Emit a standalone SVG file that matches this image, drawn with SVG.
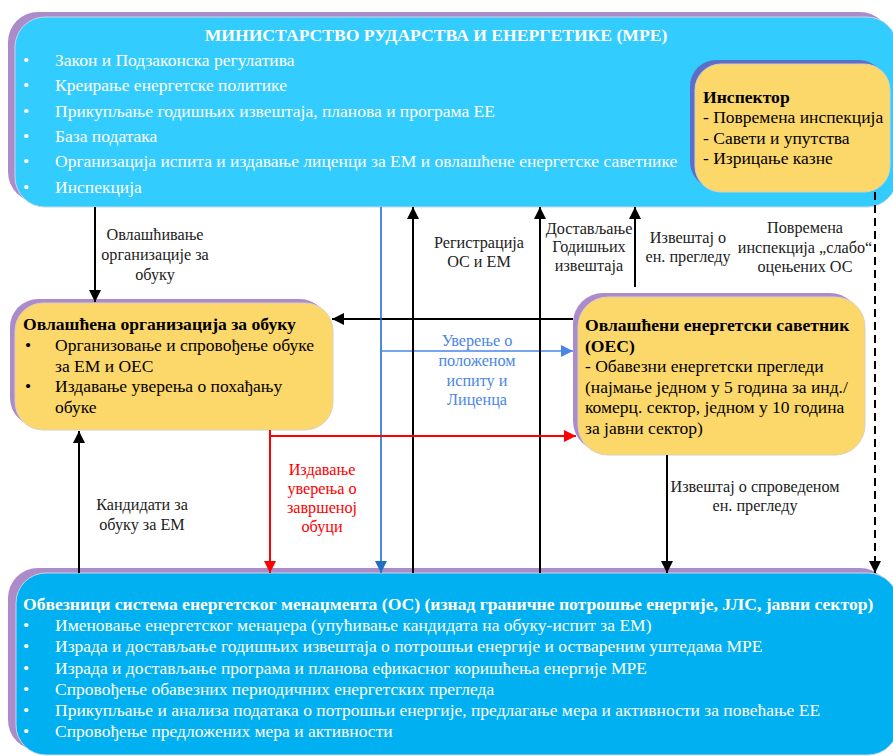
<svg xmlns="http://www.w3.org/2000/svg" width="893" height="756" viewBox="0 0 893 756">
<style>
text{font-family:"Liberation Serif","Times New Roman",serif;}
.wt{fill:#ffffff;font-size:17.5px;}
.wb{fill:#ffffff;font-size:17.6px;font-weight:bold;}
.bk{fill:#000000;font-size:17.5px;}
.bb{fill:#000000;font-size:17.6px;font-weight:bold;}
.lbl{fill:#222222;font-size:16.2px;text-anchor:middle;}
.lblb{fill:#4a86e8;font-size:16.2px;text-anchor:middle;}
.lblr{fill:#ff0000;font-size:16.2px;text-anchor:middle;}
.ln{fill:none;stroke:#000;stroke-width:2;}
.purple{fill:#ab8bc9;}
.mpe{fill:#33ccff;stroke:#c6d6e6;stroke-width:1;}
.os{fill:#00b0f0;stroke:#c6d6e6;stroke-width:1;}
.yel{fill:#fcd769;stroke:#d9d0c0;stroke-width:1;}
</style>
<defs>
<marker id="ab" markerUnits="userSpaceOnUse" markerWidth="12" markerHeight="12" viewBox="0 0 12 12" refX="12" refY="6" orient="auto"><path d="M0,0 L12,6 L0,12 Z" fill="#000"/></marker>
<marker id="ar" markerUnits="userSpaceOnUse" markerWidth="12" markerHeight="12" viewBox="0 0 12 12" refX="12" refY="6" orient="auto"><path d="M0,0 L12,6 L0,12 Z" fill="#ff0000"/></marker>
<marker id="abl" markerUnits="userSpaceOnUse" markerWidth="12" markerHeight="12" viewBox="0 0 12 12" refX="12" refY="6" orient="auto"><path d="M0,0 L12,6 L0,12 Z" fill="#4a86e8"/></marker>
<marker id="abd" markerUnits="userSpaceOnUse" markerWidth="12" markerHeight="12" viewBox="0 0 12 12" refX="12" refY="6" orient="auto"><path d="M0,0 L12,6 L0,12 Z" fill="#1f6fc4"/></marker>
</defs>
<rect width="893" height="756" fill="#ffffff"/>

<g id="mpe">
<rect class="purple" x="8" y="12" width="882" height="190" rx="30"/>
<rect class="mpe" x="15" y="17" width="882" height="190" rx="30"/>
<text class="wb" x="436" y="41" text-anchor="middle">МИНИСТАРСТВО РУДАРСТВА И ЕНЕРГЕТИКЕ (МРЕ)</text>
<g class="wt">
<text x="23" y="66">•</text><text x="55" y="66">Закон и Подзаконска регулатива</text>
<text x="23" y="91">•</text><text x="55" y="91">Креирање енергетске политике</text>
<text x="23" y="117">•</text><text x="55" y="117">Прикупљање годишњих извештаја, планова и програма ЕЕ</text>
<text x="23" y="142">•</text><text x="55" y="142">База података</text>
<text x="23" y="167">•</text><text x="55" y="167">Организација испита и издавање лиценци за ЕМ и овлашћене енергетске саветнике</text>
<text x="23" y="193">•</text><text x="55" y="193">Инспекција</text>
</g>
</g>

<g id="inspector">
<rect x="690" y="60" width="195" height="128" rx="26" fill="#5b6fc8"/>
<rect class="yel" x="695" y="64" width="195" height="128" rx="26"/>
<text class="bb" x="703" y="103">Инспектор</text>
<text class="bk" x="703" y="123">- Повремена инспекција</text>
<text class="bk" x="703" y="144">- Савети и упутства</text>
<text class="bk" x="703" y="164">- Изрицање казне</text>
</g>

<g id="training-org">
<rect class="purple" x="10" y="299" width="318" height="127" rx="28"/>
<rect class="yel" x="15" y="303" width="318" height="127" rx="28"/>
<text class="bb" x="23" y="330">Овлашћена организација за обуку</text>
<g class="bk">
<text x="25" y="351">•</text><text x="55" y="351">Организовање и спровођење обуке</text>
<text x="55" y="372">за ЕМ и ОЕС</text>
<text x="25" y="392">•</text><text x="55" y="392">Издавање уверења о похађању</text>
<text x="55" y="413">обуке</text>
</g>
</g>

<g id="oes">
<rect class="purple" x="573" y="293" width="287" height="158" rx="30"/>
<rect class="yel" x="578" y="297" width="287" height="158" rx="30"/>
<text class="bb" x="585" y="331">Овлашћени енергетски саветник</text>
<text class="bb" x="585" y="352">(ОЕС)</text>
<g class="bk">
<text x="585" y="372">- Обавезни енергетски прегледи</text>
<text x="585" y="393">(најмање једном у 5 година за инд./</text>
<text x="585" y="413">комерц. сектор, једном у 10 година</text>
<text x="585" y="434">за јавни сектор)</text>
</g>
</g>

<g id="os">
<rect class="purple" x="8" y="568" width="882" height="182" rx="30"/>
<rect class="os" x="16" y="573" width="882" height="182" rx="30"/>
<text class="wb" x="23" y="610">Обвезници система енергетског менаџмента (ОС) (изнад граничне потрошње енергије, ЈЛС, јавни сектор)</text>
<g class="wt">
<text x="23" y="631">•</text><text x="55" y="631">Именовање енергетског менаџера (упућивање кандидата на обуку-испит за ЕМ)</text>
<text x="23" y="652">•</text><text x="55" y="652">Израда и достављање годишњих извештаја о потрошњи енергије и оствареним уштедама МРЕ</text>
<text x="23" y="674">•</text><text x="55" y="674">Израда и достављање програма и планова ефикасног коришћења енергије МРЕ</text>
<text x="23" y="695">•</text><text x="55" y="695">Спровођење обавезних периодичних енергетских прегледа</text>
<text x="23" y="716">•</text><text x="55" y="716">Прикупљање и анализа података о потрошњи енергије, предлагање мера и активности за повећање ЕЕ</text>
<text x="23" y="737">•</text><text x="55" y="737">Спровођење предложених мера и активности</text>
</g>
</g>

<g id="connectors">
<line class="ln" x1="95" y1="207" x2="95" y2="302" marker-end="url(#ab)"/>
<line class="ln" x1="573" y1="319" x2="332" y2="319" marker-end="url(#ab)"/>
<line x1="381" y1="207" x2="381" y2="573" stroke="#1f6fc4" stroke-width="1.6" marker-end="url(#abd)"/>
<line x1="381" y1="351" x2="573" y2="351" stroke="#4a86e8" stroke-width="1.6" marker-end="url(#abl)"/>
<line class="ln" x1="413" y1="573" x2="413" y2="207" marker-end="url(#ab)"/>
<line class="ln" x1="540" y1="573" x2="540" y2="207" marker-end="url(#ab)"/>
<line class="ln" x1="635" y1="287" x2="635" y2="207" marker-end="url(#ab)"/>
<line x1="270" y1="430" x2="270" y2="573" stroke="#ff0000" stroke-width="2" marker-end="url(#ar)"/>
<line x1="269" y1="436" x2="576" y2="436" stroke="#ff0000" stroke-width="2" marker-end="url(#ar)"/>
<line class="ln" x1="79" y1="573" x2="79" y2="431" marker-end="url(#ab)"/>
<line class="ln" x1="667" y1="455" x2="667" y2="573" marker-end="url(#ab)"/>
<line class="ln" x1="875" y1="192" x2="875" y2="573" stroke-dasharray="8,5" marker-end="url(#ab)"/>

<text class="lbl" x="155" y="240">Овлашћивање</text>
<text class="lbl" x="155" y="260">организације за</text>
<text class="lbl" x="155" y="280">обуку</text>

<text class="lbl" x="479" y="248">Регистрација</text>
<text class="lbl" x="479" y="267">ОС и ЕМ</text>

<text class="lbl" x="589" y="234">Достављање</text>
<text class="lbl" x="589" y="252">Годишњих</text>
<text class="lbl" x="589" y="271">извештаја</text>

<text class="lbl" x="688" y="243">Извештај о</text>
<text class="lbl" x="688" y="262">ен. прегледу</text>

<text class="lbl" x="805" y="233">Повремена</text>
<text class="lbl" x="805" y="253">инспекција „слабо“</text>
<text class="lbl" x="805" y="272">оцењених ОС</text>

<text class="lblb" x="477" y="346">Уверење о</text>
<text class="lblb" x="477" y="366">положеном</text>
<text class="lblb" x="477" y="386">испиту и</text>
<text class="lblb" x="477" y="405">Лиценца</text>

<text class="lblr" x="322" y="475">Издавање</text>
<text class="lblr" x="322" y="494">уверења о</text>
<text class="lblr" x="322" y="513">завршеној</text>
<text class="lblr" x="322" y="532">обуци</text>

<text class="lbl" x="142" y="510">Кандидати за</text>
<text class="lbl" x="142" y="530">обуку за ЕМ</text>

<text class="lbl" x="755" y="492">Извештај о спроведеном</text>
<text class="lbl" x="755" y="511">ен. прегледу</text>
</g>
</svg>
